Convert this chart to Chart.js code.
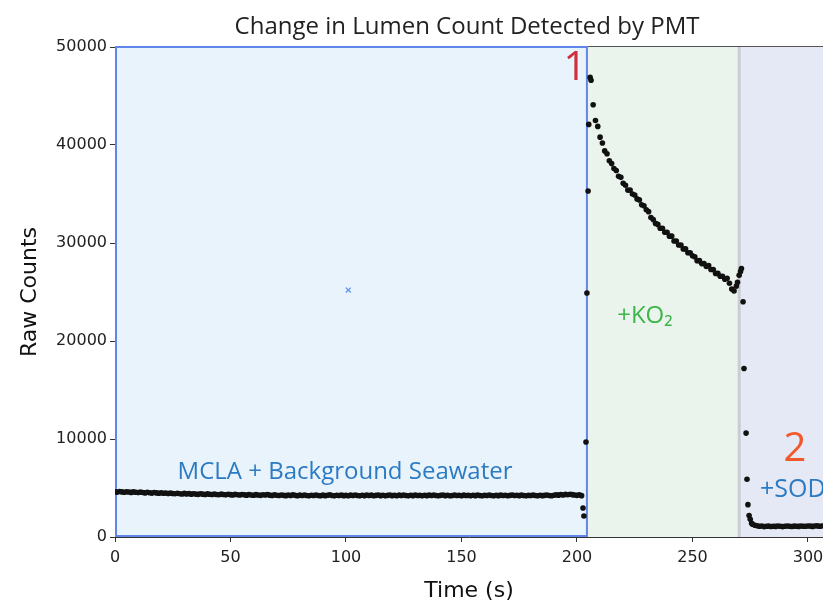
<!DOCTYPE html>
<html lang="en">
<head>
    <meta charset="UTF-8">
    <title>Change in Lumen Count Detected by PMT</title>
    <!-- Chart.js for the scatter plot -->
    <script src="https://cdn.jsdelivr.net/npm/chart.js"></script>
    <style>
        html, body { margin: 0; padding: 0; background: #ffffff; }
        #wrap { position: relative; width: 823px; height: 601px; }
    </style>
</head>
<body>
    <div id="wrap">
        <canvas id="pmtChart" width="823" height="601"></canvas>
    </div>

    <script>
        // --- Data ---

        // Baseline (MCLA + background seawater), one sample per second from t = 0
        const baselineStart = 0;
        const baselineCounts = [
            4620, 4580, 4640, 4600, 4560, 4610, 4590, 4550, 4600, 4570,
            4530, 4580, 4540, 4500, 4560, 4520, 4480, 4540, 4500, 4470,
            4510, 4460, 4490, 4430, 4480, 4440, 4410, 4470, 4420, 4390,
            4450, 4400, 4430, 4370, 4420, 4380, 4350, 4410, 4370, 4340,
            4400, 4360, 4330, 4390, 4340, 4310, 4370, 4330, 4300, 4360,
            4320, 4290, 4350, 4310, 4280, 4340, 4300, 4270, 4330, 4290,
            4260, 4320, 4290, 4250, 4310, 4280, 4330, 4270, 4240, 4300,
            4260, 4230, 4290, 4250, 4220, 4280, 4240, 4300, 4250, 4210,
            4270, 4230, 4280, 4240, 4200, 4260, 4230, 4290, 4240, 4210,
            4270, 4220, 4260, 4300, 4240, 4200, 4260, 4230, 4280, 4220,
            4250, 4210, 4270, 4230, 4290, 4240, 4200, 4260, 4220, 4280,
            4230, 4270, 4210, 4250, 4290, 4220, 4260, 4200, 4250, 4280,
            4220, 4260, 4210, 4270, 4230, 4290, 4240, 4200, 4260, 4220,
            4280, 4230, 4250, 4200, 4260, 4220, 4270, 4240, 4290, 4230,
            4200, 4250, 4280, 4220, 4260, 4210, 4240, 4290, 4230, 4260,
            4210, 4270, 4230, 4250, 4200, 4260, 4220, 4280, 4240, 4210,
            4260, 4230, 4290, 4240, 4200, 4250, 4220, 4270, 4230, 4260,
            4210, 4250, 4280, 4230, 4260, 4220, 4270, 4240, 4200, 4250,
            4230, 4280, 4240, 4210, 4260, 4220, 4250, 4290, 4240, 4210,
            4260, 4300, 4270, 4330, 4290, 4350, 4310, 4360, 4320, 4280,
            4250, 4300, 4220
        ];

        // Injection 1 (+KO2): the fast jump
        const riseTimes  = [202.6, 203.0, 203.9, 204.3, 204.8, 205.1, 205.7, 206.1];
        const riseCounts = [2960, 2140, 9700, 24900, 35300, 42100, 46900, 46600];

        // Decay after +KO2, one sample per second from t = 207
        const decayStart = 207;
        const decayCounts = [
            44100, 42500, 41900, 40800, 40200, 39400, 39100, 38400, 38100, 37600,
            37400, 36800, 36700, 36100, 35900, 35400, 35400, 35000, 34900, 34500,
            34400, 33900, 33800, 33400, 33200, 32600, 32400, 32000, 31900, 31500,
            31500, 31100, 31100, 30700, 30700, 30200, 30200, 29800, 29800, 29400,
            29400, 29000, 29000, 28700, 28600, 28200, 28200, 27900, 27900, 27600,
            27700, 27300, 27300, 26900, 26900, 26600, 26600, 26300, 26400, 25900,
            25300, 25100, 25600
        ];

        // Injection 2 (+SOD): the drop
        const dropTimes  = [269.5, 270.2, 270.8, 271.2, 271.9, 272.3, 273.2, 273.6, 274.0, 274.5, 275.0, 275.6];
        const dropCounts = [26000, 26700, 27100, 27400, 24000, 17200, 10600, 5900, 3300, 2200, 1800, 1400];

        // Quenched level after +SOD, one sample per second from t = 276
        const sodStart = 276;
        const sodCounts = [
            1300, 1200, 1150, 1100, 1120, 1060, 1090, 1110, 1070, 1100,
            1080, 1120, 1090, 1060, 1100, 1130, 1090, 1070, 1110, 1100,
            1080, 1120, 1100, 1090, 1130, 1110, 1080, 1120, 1140, 1100,
            1130
        ];

        // Stray marker in the baseline panel
        const markerTimes  = [101];
        const markerCounts = [25200];

        // Phase boundaries (s)
        const phaseEdges = [0, 204.3, 270, 320];

        // Axis ticks
        const xTickStep = 50;
        const yTickStep = 10000;

        // --- Build scatter points ---
        function series(start, values) {
            return values.map((v, i) => ({ x: start + i, y: v }));
        }
        function pairs(xs, ys) {
            return xs.map((x, i) => ({ x: x, y: ys[i] }));
        }

        const tracePoints = []
            .concat(series(baselineStart, baselineCounts))
            .concat(pairs(riseTimes, riseCounts))
            .concat(series(decayStart, decayCounts))
            .concat(pairs(dropTimes, dropCounts))
            .concat(series(sodStart, sodCounts));

        // Text placed on the plot (data coordinates)
        const notes = [
            { text: '1', x: 199.1, y: 47800, color: '#cf2f3c', font: '40px "Open Sans"', align: 'center' },
            { text: '+KO\u2082', x: 229.4, y: 22550, color: '#3cb54a', font: '24px "Open Sans"', align: 'center' },
            { text: '2', x: 294.4, y: 8900, color: '#f1592a', font: '40px "Open Sans"', align: 'center' },
            { text: '+SOD', x: 279.2, y: 4800, color: '#2b7bc4', font: '25px "Open Sans"', align: 'left' },
            { text: 'MCLA + Background Seawater', x: 99.6, y: 6650, color: '#2b7bc4', font: '24px "Open Sans"', align: 'center' }
        ];

        // Coloured phase panels, drawn under the axes
        const phasePanels = {
            id: 'phasePanels',
            beforeDraw(chart) {
                const { ctx, chartArea, scales } = chart;
                const xs = phaseEdges.map(t => Math.min(scales.x.getPixelForValue(t), chartArea.right));
                const fills = ['#e9f3fb', '#ebf4ec', '#e5e9f5'];
                ctx.save();
                for (let i = 0; i < fills.length; i++) {
                    ctx.fillStyle = fills[i];
                    ctx.fillRect(xs[i], chartArea.top, xs[i + 1] - xs[i], chartArea.bottom - chartArea.top);
                }
                // grey divider at the second injection
                ctx.fillStyle = '#c9ccd3';
                ctx.fillRect(xs[2] - 1, chartArea.top, 3, chartArea.bottom - chartArea.top);
                // top spine
                ctx.fillStyle = '#555';
                ctx.fillRect(chartArea.left, chartArea.top - 1, chartArea.right - chartArea.left, 1);
                ctx.restore();
            },
            beforeDatasetsDraw(chart) {
                const { ctx, chartArea, scales } = chart;
                const x0 = scales.x.getPixelForValue(phaseEdges[0]);
                const x1 = scales.x.getPixelForValue(phaseEdges[1]);
                ctx.save();
                ctx.strokeStyle = '#5f86e8';
                ctx.lineWidth = 2;
                ctx.strokeRect(x0 + 1, chartArea.top, x1 - x0 - 1, chartArea.bottom - chartArea.top - 1);
                ctx.restore();
            },
            afterDraw(chart) {
                const { ctx, scales } = chart;
                ctx.save();
                ctx.textBaseline = 'middle';
                notes.forEach(n => {
                    ctx.font = n.font;
                    ctx.fillStyle = n.color;
                    ctx.textAlign = n.align;
                    ctx.fillText(n.text, scales.x.getPixelForValue(n.x), scales.y.getPixelForValue(n.y));
                });
                // title
                ctx.font = '24px "Open Sans"';
                ctx.fillStyle = '#222';
                ctx.textAlign = 'center';
                ctx.fillText('Change in Lumen Count Detected by PMT', 467, 27);
                ctx.restore();
            }
        };

        const ctx = document.getElementById('pmtChart').getContext('2d');
        new Chart(ctx, {
            type: 'scatter',
            data: {
                datasets: [
                    {
                        label: 'PMT raw counts',
                        data: tracePoints,
                        backgroundColor: '#111111',
                        borderColor: '#111111',
                        pointRadius: 2.8,
                        borderWidth: 0
                    },
                    {
                        label: 'marker',
                        data: pairs(markerTimes, markerCounts),
                        pointStyle: 'crossRot',
                        pointRadius: 3.5,
                        borderColor: '#5b8def',
                        borderWidth: 1.2
                    }
                ]
            },
            options: {
                responsive: false,
                animation: false,
                devicePixelRatio: 1,
                layout: { autoPadding: false, padding: { top: 47, right: 0, bottom: 0, left: 0 } },
                plugins: {
                    legend: { display: false },
                    tooltip: { enabled: false }
                },
                scales: {
                    x: {
                        type: 'linear',
                        min: 0,
                        max: 306.5,
                        afterFit: (s) => { s.height = 64; s.paddingLeft = 0; s.paddingRight = 0; },
                        grid: { drawOnChartArea: false, drawTicks: true, tickLength: 5, color: '#333' },
                        border: { color: '#333', width: 1 },
                        ticks: {
                            stepSize: xTickStep,
                            includeBounds: false,
                            padding: 6,
                            color: '#222',
                            font: { family: 'DejaVu Sans', size: 16 }
                        },
                        title: {
                            display: true,
                            text: 'Time (s)',
                            color: '#111',
                            font: { family: 'DejaVu Sans', size: 22, lineHeight: 1 },
                            padding: { top: 0, bottom: -1 }
                        }
                    },
                    y: {
                        min: 0,
                        max: 50000,
                        afterFit: (s) => { s.width = 115; s.paddingTop = 0; s.paddingBottom = 0; },
                        grid: { drawOnChartArea: false, drawTicks: true, tickLength: 5, color: '#333' },
                        border: { color: '#333', width: 1 },
                        ticks: {
                            stepSize: yTickStep,
                            padding: 3,
                            color: '#222',
                            font: { family: 'DejaVu Sans', size: 16 },
                            callback: (v) => String(v)
                        },
                        title: {
                            display: true,
                            text: 'Raw Counts',
                            color: '#111',
                            font: { family: 'DejaVu Sans', size: 22, lineHeight: 1 },
                            padding: { top: 19, bottom: 0 }
                        }
                    }
                }
            },
            plugins: [phasePanels]
        });
    </script>
</body>
</html>
